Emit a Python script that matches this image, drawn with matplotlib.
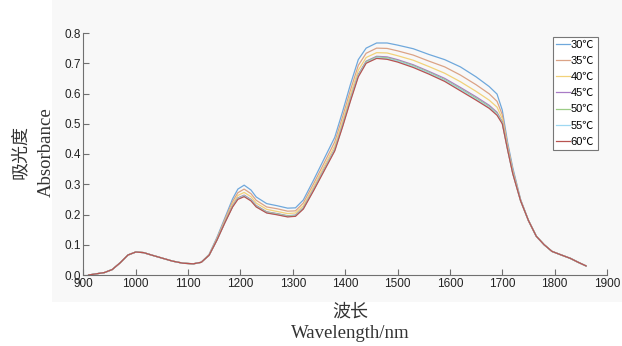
import matplotlib
matplotlib.use("Agg")
import matplotlib.pyplot as plt
from matplotlib.patches import Rectangle

# wavelength grid (nm)
wavelength = [910, 925, 940, 955, 970, 985, 1000, 1015, 1030, 1050, 1070, 1090, 1110, 1125,
              1140, 1155, 1170, 1185, 1195, 1207, 1220, 1230, 1250, 1270, 1290, 1305, 1320, 1340,
              1360, 1380, 1395, 1410, 1425, 1440, 1460, 1480, 1500, 1530, 1560, 1590, 1620,
              1650, 1675, 1690, 1700, 1710, 1720, 1735, 1750, 1765, 1780, 1795, 1810, 1830,
              1845, 1860]

# shared part of the spectra (below 1140 nm and above 1735 nm)
head = [0.000, 0.004, 0.008, 0.018, 0.040, 0.066, 0.076, 0.074, 0.066, 0.056, 0.046, 0.039,
        0.037, 0.042]
tail = [0.180, 0.128, 0.100, 0.078, 0.068, 0.055, 0.042, 0.030]

abs_30 = head + [0.068, 0.124, 0.188, 0.252, 0.284, 0.297, 0.281, 0.258, 0.236, 0.229, 0.221,
                 0.222, 0.248, 0.315, 0.385, 0.455, 0.540, 0.630, 0.712, 0.750, 0.767, 0.767,
                 0.760, 0.748, 0.729, 0.712, 0.688, 0.655, 0.623, 0.598, 0.545, 0.440, 0.355,
                 0.250] + tail
abs_35 = head + [0.067, 0.121, 0.183, 0.243, 0.272, 0.284, 0.269, 0.247, 0.225, 0.219, 0.211,
                 0.212, 0.238, 0.303, 0.371, 0.440, 0.523, 0.611, 0.693, 0.733, 0.750, 0.749,
                 0.741, 0.727, 0.707, 0.688, 0.661, 0.629, 0.599, 0.574, 0.530, 0.432, 0.348,
                 0.248] + tail
abs_40 = head + [0.066, 0.118, 0.178, 0.235, 0.263, 0.273, 0.259, 0.238, 0.217, 0.210, 0.203,
                 0.205, 0.229, 0.293, 0.360, 0.427, 0.509, 0.596, 0.677, 0.719, 0.735, 0.734,
                 0.725, 0.710, 0.689, 0.667, 0.639, 0.607, 0.578, 0.555, 0.517, 0.425, 0.343,
                 0.247] + tail
abs_45 = head + [0.065, 0.116, 0.174, 0.229, 0.255, 0.264, 0.250, 0.230, 0.209, 0.203, 0.196,
                 0.198, 0.222, 0.285, 0.351, 0.416, 0.497, 0.583, 0.663, 0.707, 0.723, 0.721,
                 0.712, 0.695, 0.673, 0.650, 0.620, 0.589, 0.561, 0.538, 0.506, 0.419, 0.338,
                 0.246] + tail
abs_50 = head + [0.065, 0.116, 0.173, 0.227, 0.253, 0.262, 0.248, 0.228, 0.208, 0.202, 0.195,
                 0.197, 0.221, 0.283, 0.349, 0.414, 0.495, 0.580, 0.660, 0.705, 0.721, 0.718,
                 0.709, 0.692, 0.670, 0.646, 0.616, 0.585, 0.557, 0.534, 0.504, 0.417, 0.337,
                 0.245] + tail
abs_55 = head + [0.065, 0.115, 0.173, 0.226, 0.252, 0.261, 0.247, 0.226, 0.206, 0.200, 0.193,
                 0.195, 0.219, 0.282, 0.347, 0.412, 0.492, 0.577, 0.658, 0.702, 0.718, 0.715,
                 0.707, 0.689, 0.667, 0.643, 0.613, 0.581, 0.554, 0.531, 0.502, 0.416, 0.336,
                 0.245] + tail
abs_60 = head + [0.065, 0.115, 0.172, 0.225, 0.250, 0.259, 0.245, 0.225, 0.205, 0.199, 0.192,
                 0.194, 0.218, 0.280, 0.345, 0.410, 0.490, 0.575, 0.655, 0.700, 0.716, 0.713,
                 0.704, 0.686, 0.664, 0.640, 0.609, 0.578, 0.551, 0.528, 0.500, 0.415, 0.335,
                 0.245] + tail

labels = ["30℃", "35℃", "40℃", "45℃", "50℃", "55℃", "60℃"]
series = [abs_30, abs_35, abs_40, abs_45, abs_50, abs_55, abs_60]
colors = ["#6fa8dc", "#dba386", "#f2d27a", "#a87bc6", "#9ccc86", "#9fd8f2", "#b85450"]

fig = plt.figure(figsize=(6.22, 3.46), dpi=100)
fig.patch.set_facecolor("white")
# light grey figure panel behind the axes
fig.patches.append(Rectangle((52 / 622, 1 - 302 / 346), 1.0, 302 / 346, transform=fig.transFigure,
                             facecolor="#f8f8f8", edgecolor="none", zorder=-5))

ax = fig.add_axes([83.4 / 622, 1 - 275 / 346, (607 - 83.4) / 622, (275 - 33) / 346])
ax.set_facecolor("#f8f8f8")

for y, c, lab in zip(series, colors, labels):
    ax.plot(wavelength, y, color=c, lw=0.9, label=lab)

ax.set_xlim(900, 1900)
ax.set_ylim(0, 0.8)
ax.set_xticks(range(900, 2000, 100))
ax.set_yticks([0.0, 0.1, 0.2, 0.3, 0.4, 0.5, 0.6, 0.7, 0.8])
ax.yaxis.set_major_formatter(matplotlib.ticker.FormatStrFormatter("%.1f"))

for s in ["top", "right"]:
    ax.spines[s].set_visible(False)
for s in ["left", "bottom"]:
    ax.spines[s].set_color("#707070")
    ax.spines[s].set_linewidth(0.8)
ax.tick_params(direction="in", length=4, width=0.8, color="#707070", labelsize=8.5, pad=2,
               labelcolor="#222222")
ax.tick_params(axis="x", pad=2.5)
for t in ax.get_xticklabels() + ax.get_yticklabels():
    t.set_family("Liberation Sans")

leg = ax.legend(loc="upper right", bbox_to_anchor=(0.982, 0.985), borderaxespad=0,
                prop={"family": ["Liberation Sans", "Noto Sans CJK SC"], "size": 8},
                handlelength=1.2, handletextpad=0.1, labelspacing=0.55, borderpad=0.3,
                fancybox=False, framealpha=1, edgecolor="#777777")
leg.get_frame().set_linewidth(0.8)

# axis titles (Chinese + English)
fig.text(350 / 622, 1 - 312 / 346, "波长", family="Noto Sans CJK SC", fontsize=13,
         ha="center", va="center", color="#333333")
fig.text(350 / 622, 1 - 334 / 346, "Wavelength/nm", family="Liberation Serif", fontsize=13.5,
         ha="center", va="center", color="#333333")
fig.text(20 / 622, 1 - 152 / 346, "吸光度", family="Noto Sans CJK SC", fontsize=13,
         rotation=90, ha="center", va="center", color="#333333")
fig.text(46 / 622, 1 - 152 / 346, "Absorbance", family="Liberation Serif", fontsize=13.5,
         rotation=90, ha="center", va="center", color="#333333")

plt.savefig("out.png", dpi=100)
